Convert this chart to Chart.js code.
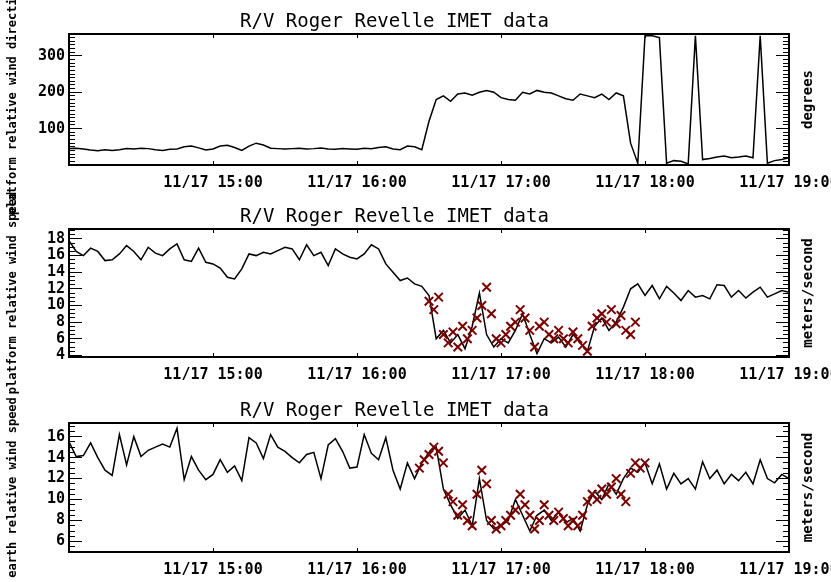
<!DOCTYPE html>
<html>
<head>
<meta charset="utf-8">
<script src="https://cdn.jsdelivr.net/npm/chart.js@4.4.1/dist/chart.umd.min.js"></script>
<style>
html, body { margin: 0; padding: 0; background: #fff; overflow: hidden; width: 831px; height: 582px; }
canvas { position: absolute; left: 0; top: 0; }
</style>
</head>
<body>
<canvas id="c1" width="860" height="582"></canvas>
<canvas id="c2" width="860" height="582"></canvas>
<canvas id="c3" width="860" height="582"></canvas>
<script>
// minutes after 11/17 14:00, one sample every 3 minutes
var minutes = Array.from({length: 101}, function(_, i) { return i * 3; });
var hourLabels = ['', '11/17 15:00', '11/17 16:00', '11/17 17:00', '11/17 18:00', '11/17 19:00'];

// platform relative wind direction (degrees)
var windDir = [45,46,44,41,39,42,40,42,45,44,
  46,45,42,40,43,44,50,52,47,41,
  44,52,54,48,40,52,60,55,46,45,
  44,45,46,44,45,47,44,43,45,44,
  43,46,45,48,50,44,42,52,50,42,
  120,180,190,175,195,198,192,200,205,200,
  185,180,178,200,195,205,200,198,190,182,
  178,195,190,185,195,180,198,190,60,5,
  355,355,350,5,12,10,3,355,15,18,
  22,25,20,22,25,20,355,5,12,15,
  20];

// platform relative wind speed (m/s)
var platSpeed = [17.8,16.5,16.0,16.9,16.5,15.4,15.5,16.2,17.2,16.5,
  15.5,17.0,16.3,16.0,16.8,17.4,15.5,15.3,16.9,15.2,
  15.0,14.5,13.4,13.2,14.4,16.2,16.0,16.4,16.2,16.6,
  17.0,16.8,15.5,17.3,16.0,16.4,14.8,16.8,16.2,15.8,
  15.6,16.2,17.3,16.8,15.0,14.0,13.0,13.3,12.6,12.3,
  11.2,6.0,7.0,5.5,6.5,4.8,7.5,11.5,6.5,5.0,
  6.0,5.5,7.0,9.0,6.5,4.2,6.0,5.5,6.2,5.0,
  6.5,5.5,4.5,7.5,8.5,7.0,8.0,9.8,12.0,12.6,
  11.2,12.4,10.8,12.3,11.5,10.6,11.8,11.0,11.2,10.8,
  12.5,12.4,11.0,11.8,10.9,11.6,12.2,11.0,11.4,11.8,
  11.6];

// flagged platform speed samples, every 2 minutes from 16:30
var platFlagMin = Array.from({length: 44}, function(_, i) { return 150 + i * 2; });
var platFlag = [10.5,9.5,11.0,6.5,5.5,6.8,5.0,7.5,6.0,7.0,
  8.5,10.0,12.2,9.0,6.0,5.5,6.5,7.5,8.0,9.5,
  8.5,7.0,5.0,7.5,8.0,6.5,6.0,7.0,6.0,5.5,
  6.8,6.0,5.2,4.5,7.5,8.5,9.0,8.0,9.5,7.8,
  8.8,7.0,6.5,8.0];

// earth relative wind speed (m/s)
var earthSpeed = [15.5,14.1,14.2,15.4,14.0,12.8,12.3,16.2,13.3,16.0,
  14.1,14.7,15.0,15.3,15.0,16.8,11.9,14.1,12.8,11.9,
  12.4,13.8,12.6,13.2,11.8,15.9,15.4,13.9,16.2,15.0,
  14.6,14.0,13.5,14.3,14.5,12.0,15.2,15.8,14.6,13.0,
  13.1,16.2,14.4,13.8,15.9,12.8,11.0,13.5,12.0,13.5,
  14.5,15.0,11.0,9.5,8.2,9.0,7.5,12.0,8.0,7.2,
  7.5,8.0,10.0,8.5,7.0,8.5,9.0,8.0,8.8,7.8,
  8.2,7.0,9.5,10.8,10.0,11.5,10.5,12.0,13.0,12.6,
  13.5,11.5,13.4,11.0,12.5,11.5,12.0,11.0,13.6,12.0,
  12.8,11.5,12.4,11.8,12.6,11.5,13.8,12.0,11.6,12.4,
  12.0];

// flagged earth speed samples, every 2 minutes from 16:26
var earthFlagMin = Array.from({length: 48}, function(_, i) { return 146 + i * 2; });
var earthFlag = [13.0,13.8,14.3,15.0,14.6,13.5,10.5,9.8,8.5,9.5,
  8.0,7.5,10.5,12.8,11.5,8.0,7.2,7.5,8.0,8.5,
  9.0,10.5,9.5,8.5,7.2,8.0,9.5,8.5,8.0,8.8,
  8.2,7.5,8.0,7.5,8.5,9.8,10.5,10.0,11.0,10.5,
  11.2,12.0,10.5,9.8,12.5,13.5,13.0,13.5];

Chart.defaults.font.family = '"DejaVu Sans Mono", monospace';
Chart.defaults.color = '#000';

// box frame and right hand title
function idlFrame(rightTitle) {
  return {
    id: 'idlFrame',
    afterDraw: function(chart) {
      var ctx = chart.ctx, a = chart.chartArea;
      ctx.save();
      ctx.strokeStyle = '#000';
      ctx.fillStyle = '#000';
      ctx.lineWidth = 2;
      ctx.strokeRect(a.left, a.top, a.right - a.left, a.bottom - a.top);
      ctx.translate(a.right + 19, (a.top + a.bottom) / 2);
      ctx.rotate(-Math.PI / 2);
      ctx.font = 'bold 14px "DejaVu Sans Mono"';
      ctx.textAlign = 'center';
      ctx.textBaseline = 'middle';
      ctx.fillText(rightTitle, 0, 0);
      ctx.restore();
    }
  };
}

// inward tick marks: negative tick length, no lines across the plot
function tickGrid(len) {
  return { display: true, drawOnChartArea: false, drawTicks: true, tickLength: -len, color: '#000', tickColor: '#000', tickWidth: 1 };
}

function tickAxis(pos, weight, yMin, yMax, step) {
  return {
    type: 'linear', position: pos, weight: weight, min: yMin, max: yMax,
    grid: tickGrid(step.len), border: { display: false },
    ticks: { display: false, stepSize: step.size, includeBounds: false, autoSkip: false },
    afterFit: function(s) { if (pos === 'top') { s.height = 0; } else { s.width = 0; } }
  };
}

function panel(id, padTop, padBottom, axisH, yMin, yMax, yStep, minor, leftTitle, rightTitle, line, flagMin, flag) {
  new Chart(document.getElementById(id), {
    type: 'line',
    data: {
      datasets: [{
        data: flagMin.map(function(t, i) { return {x: t, y: flag[i]}; }),
        xAxisID: 'x', yAxisID: 'y',
        showLine: false,
        pointStyle: 'crossRot',
        pointRadius: 6,
        borderColor: '#7a0000',
        borderWidth: 2
      }, {
        data: minutes.map(function(t, i) { return {x: t, y: line[i]}; }),
        xAxisID: 'x', yAxisID: 'y',
        borderColor: '#000',
        borderWidth: 1.5,
        pointRadius: 0,
        tension: 0
      }]
    },
    options: {
      responsive: false,
      animation: false,
      layout: { padding: { left: 0, right: 71, top: padTop, bottom: padBottom } },
      plugins: {
        legend: { display: false },
        tooltip: { enabled: false },
        title: {
          display: true,
          text: 'R/V Roger Revelle IMET data',
          color: '#000',
          font: { size: 19, weight: 'normal', lineHeight: 1 },
          padding: { top: 13, bottom: 2 }
        }
      },
      scales: {
        x: {
          type: 'linear', position: 'bottom', min: 0, max: 300,
          grid: tickGrid(4),
          border: { display: false },
          ticks: {
            stepSize: 60, autoSkip: false, maxRotation: 0, padding: 13,
            font: { size: 15, weight: 'bold' },
            callback: function(v, i) { return hourLabels[i]; }
          },
          afterFit: function(s) { s.height = axisH; }
        },
        xTop: tickAxis('top', 0, 0, 300, { size: 60, len: 4 }),
        y: {
          type: 'linear', position: 'left', weight: 1,
          min: yMin, max: yMax,
          grid: tickGrid(13),
          border: { display: false },
          ticks: {
            stepSize: yStep, includeBounds: false, autoSkip: false, padding: 17,
            font: { size: 15, weight: 'bold' },
            callback: function(v) { return v === 0 ? '' : v; }
          },
          title: {
            display: true, text: leftTitle,
            font: { size: 12, weight: 'bold' },
            padding: { top: 6, bottom: 0 }
          },
          afterFit: function(s) { s.width = 69; }
        },
        yMinor: tickAxis('left', 0, yMin, yMax, { size: minor, len: 6 }),
        yRight: tickAxis('right', 0, yMin, yMax, { size: yStep, len: 13 }),
        yRightMinor: tickAxis('right', 1, yMin, yMax, { size: minor, len: 6 })
      }
    },
    plugins: [idlFrame(rightTitle)]
  });
}

panel('c1', 0, 387, 30, 0, 360, 100, 10, 'platform relative wind direction', 'degrees', windDir, [], []);
panel('c2', 195, 193, 32, 3.8, 19.2, 2, 0.5, 'platform relative wind speed', 'meters/second', platSpeed, platFlagMin, platFlag);
panel('c3', 389, 0, 30, 5.0, 17.3, 2, 0.5, 'earth relative wind speed', 'meters/second', earthSpeed, earthFlagMin, earthFlag);
</script>
</body>
</html>
